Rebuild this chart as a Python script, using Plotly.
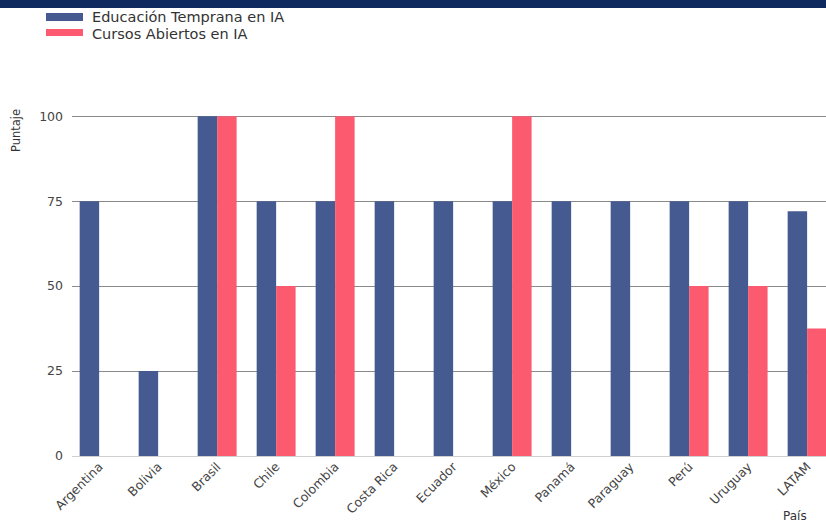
import plotly.graph_objects as go

paises = ["Argentina", "Bolivia", "Brasil", "Chile", "Colombia", "Costa Rica", "Ecuador",
          "México", "Panamá", "Paraguay", "Perú", "Uruguay", "LATAM"]
educacion_temprana = [75, 25, 100, 75, 75, 75, 75, 75, 75, 75, 75, 75, 72]
cursos_abiertos = [0, 0, 100, 50, 100, 0, 0, 100, 0, 0, 50, 50, 37.5]
serie_nombres = ["Educación Temprana en IA", "Cursos Abiertos en IA"]
y_ticks = [0, 25, 50, 75, 100]

BLUE = "#455a91"
PINK = "#fc5a6f"
FONT = "DejaVu Sans"

W, H = 826, 524
ML, MR, MT, MB = 72, 0, 106, 68
PW, PH = W - ML - MR, H - MT - MB


def px(xp):
    return (xp - ML) / PW


def py(yp):
    return (H - MB - yp) / PH


fig = go.Figure()
fig.add_trace(go.Bar(x=paises, y=educacion_temprana, name=serie_nombres[0],
                     marker=dict(color=BLUE, line=dict(width=0))))
fig.add_trace(go.Bar(x=paises, y=cursos_abiertos, name=serie_nombres[1],
                     marker=dict(color=PINK, line=dict(width=0))))

shapes = [
    dict(type="rect", xref="paper", yref="paper", x0=px(-5), x1=px(W + 5), y0=py(8), y1=py(-2),
         fillcolor="#0e2a5e", line=dict(width=0), layer="above"),
    dict(type="rect", xref="paper", yref="paper", x0=px(46), x1=px(83), y0=py(21), y1=py(13),
         fillcolor=BLUE, line=dict(width=0)),
    dict(type="rect", xref="paper", yref="paper", x0=px(46), x1=px(83), y0=py(36), y1=py(29),
         fillcolor=PINK, line=dict(width=0)),
]

annotations = [
    dict(text=serie_nombres[0], xref="paper", yref="paper", x=px(90), y=py(17.5), xanchor="left",
         yanchor="middle", showarrow=False, font=dict(family=FONT, size=14.5, color="#333")),
    dict(text=serie_nombres[1], xref="paper", yref="paper", x=px(90), y=py(33.5), xanchor="left",
         yanchor="middle", showarrow=False, font=dict(family=FONT, size=14.5, color="#333")),
    dict(text="Puntaje", xref="paper", yref="paper", x=px(16), y=py(131), textangle=-90,
         xanchor="center", yanchor="middle", showarrow=False,
         font=dict(family=FONT, size=11.5, color="#333")),
    dict(text="País", xref="paper", yref="paper", x=px(809), y=py(516), xanchor="right",
         yanchor="middle", showarrow=False, font=dict(family=FONT, size=12, color="#333")),
]

fig.update_layout(
    width=W, height=H,
    margin=dict(l=ML, r=MR, t=MT, b=MB, autoexpand=False),
    paper_bgcolor="white", plot_bgcolor="white",
    barmode="group", bargap=0.34, bargroupgap=0,
    showlegend=False,
    font=dict(family=FONT, color="#444"),
    shapes=shapes, annotations=annotations,
)
fig.update_xaxes(range=[-0.46, 12.32], tickangle=-45, showgrid=False, showline=False,
                 ticks="", tickfont=dict(family=FONT, size=12.5, color="#444"))
fig.update_yaxes(range=[0, 103], tickvals=y_ticks, showgrid=True, gridcolor="#8a8a8a",
                 gridwidth=1, zeroline=True, zerolinecolor="#d0d0d0", zerolinewidth=1,
                 ticks="", ticklabelstandoff=8, tickfont=dict(family=FONT, size=12.5, color="#444"))

fig.write_html("out.html", config={"displayModeBar": False},
               post_script="document.body.style.margin='0';document.body.style.overflow='hidden';")
